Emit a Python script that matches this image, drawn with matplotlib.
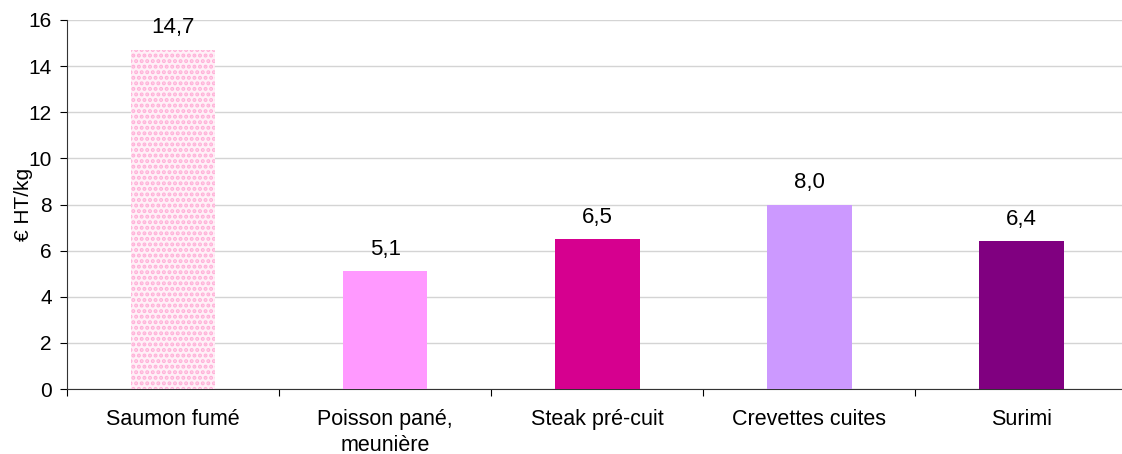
import matplotlib
matplotlib.use("Agg")
import matplotlib.pyplot as plt
import numpy as np

categories = ["Saumon fumé", "Poisson pané,\nmeunière", "Steak pré-cuit", "Crevettes cuites", "Surimi"]
values = [14.7, 5.1, 6.5, 8.0, 6.4]
colors = ["#fff0f7", "#ff99ff", "#d6008f", "#cc99ff", "#800080"]

plt.rcParams['font.family'] = ['Liberation Sans', 'DejaVu Sans']
plt.rcParams['hatch.linewidth'] = 2.0

fig = plt.figure(figsize=(11.22, 4.54), dpi=100)
ax = fig.add_axes([0.0597, 0.143, 0.945, 0.813])

x = np.arange(len(categories))
bars = ax.bar(x, values, width=0.40, color=colors, zorder=3)
bars[0].set_hatch('...')
bars[0].set_edgecolor('#ffb0d8')
bars[0].set_linewidth(0)

for xi, v in zip(x, values):
    ax.text(xi, v + 0.72, f"{v:.1f}".replace(".", ","), ha="center", va="baseline", fontsize=16)

ax.set_xlim(-0.5, len(categories) - 0.5)
ax.set_ylim(0, 16)
ax.set_yticks(range(0, 17, 2))
ax.tick_params(axis='y', labelsize=15, direction='out', length=5, width=0.8, pad=6)
ax.yaxis.grid(True, color="#d4d4d4", linewidth=1.0, zorder=0)
ax.set_axisbelow(True)

ax.set_xticks(np.arange(-0.5, len(categories), 1.0))
ax.set_xticklabels([])
ax.set_xticks(x, minor=True)
ax.set_xticklabels(categories, minor=True, fontsize=15.5, linespacing=1.35)
ax.tick_params(axis='x', which='major', direction='out', length=5, width=0.8)
ax.tick_params(axis='x', which='minor', length=0, pad=14)

for s in ["top", "right"]:
    ax.spines[s].set_visible(False)
ax.spines["left"].set_color("#333333")
ax.spines["bottom"].set_color("#333333")

ax.set_ylabel("€ HT/kg", fontsize=15)
ax.yaxis.set_label_coords(-0.032, 0.5)

fig.savefig("out.png", dpi=100)
